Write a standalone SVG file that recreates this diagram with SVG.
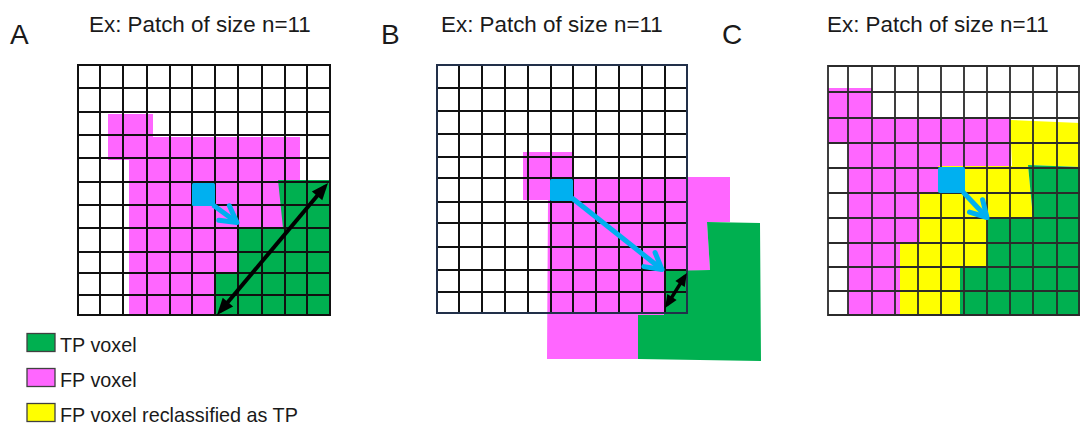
<svg xmlns="http://www.w3.org/2000/svg" width="1080" height="427" viewBox="0 0 1080 427">
  <style>
    .title { font-family: "Liberation Sans", Arial, sans-serif; font-size: 22.4px; fill: #1a1a1a; }
    .letter { font-family: "Liberation Sans", Arial, sans-serif; font-size: 28px; fill: #1a1a1a; }
    .legend-text { font-family: "Liberation Sans", Arial, sans-serif; font-size: 19.8px; fill: #1a1a1a; }
    .tp { fill: #00B050; }
    .fp { fill: #FF66FF; }
    .re { fill: #FFFF00; }
    .seed { fill: #00B0F0; }
    .grid { fill: none; stroke: #111; stroke-width: 2; stroke-linecap: square; }
    .grid-c { fill: none; stroke: #2b2b2b; stroke-width: 1.8; stroke-linecap: square; }
    .swatch { stroke: #404040; stroke-width: 1.3; }
    .dir { fill: none; stroke: #00B0F0; stroke-width: 5; marker-end: url(#chevron); }
    .span { fill: none; stroke: #000; stroke-width: 4; marker-start: url(#head); marker-end: url(#head); }
    .span-sm { fill: none; stroke: #000; stroke-width: 3.6; marker-start: url(#head-sm); marker-end: url(#head-sm); }
  </style>
  <defs>
    <marker id="chevron" markerUnits="userSpaceOnUse" viewBox="-22 -14 27 28" markerWidth="27" markerHeight="28" refX="0" refY="0" orient="auto">
      <path d="M-16 -9 L0 0 L-16 9" fill="none" stroke="#00B0F0" stroke-width="5" stroke-linecap="round" stroke-linejoin="round"/>
    </marker>
    <marker id="head" markerUnits="userSpaceOnUse" viewBox="-14 -9 22 18" markerWidth="22" markerHeight="18" refX="0" refY="0" orient="auto-start-reverse">
      <path d="M5 0 L-12 -6.8 L-12 6.8 Z" fill="#000"/>
    </marker>
    <marker id="head-sm" markerUnits="userSpaceOnUse" viewBox="-12 -8 20 16" markerWidth="20" markerHeight="16" refX="0" refY="0" orient="auto-start-reverse">
      <path d="M4 0 L-9 -5.5 L-9 5.5 Z" fill="#000"/>
    </marker>
  </defs>

  <rect width="1080" height="427" fill="#fff"/>

  <!-- Panel letters and captions -->
  <g id="titles">
    <text class="letter" x="10" y="43.5">A</text>
    <text class="letter" x="381" y="43.5">B</text>
    <text class="letter" x="722" y="43.5">C</text>
    <text class="title" x="89" y="31.5">Ex: Patch of size n=11</text>
    <text class="title" x="441" y="31.5">Ex: Patch of size n=11</text>
    <text class="title" x="827" y="31.5">Ex: Patch of size n=11</text>
  </g>

  <!-- Panel A: 11x11 patch, seed voxel and distance to the TP region -->
  <g id="panel-a">
    <polygon class="fp" points="108,114 153,114 153,137 300,137 300,182 283,182 283,228 238,228 238,272 215,272 215,315 129,315 129,160 108,160"/>
    <polygon class="tp" points="278,180 330,180 330,315 215,315 215,272 238,272 238,228 283,228"/>
    <path class="grid" d="M78 65V315M100 65V315M123 65V315M147 65V315M170 65V315M192 65V315M215 65V315M238 65V315M262 65V315M285 65V315M307 65V315M330 65V315M78 65H330M78 88H330M78 112H330M78 135H330M78 158H330M78 182H330M78 205H330M78 228H330M78 252H330M78 273H330M78 295H330M78 315H330"/>
    <rect class="seed" x="192" y="183" width="23" height="23" rx="1.5"/>
  </g>

  <!-- Panel B: patch with the TP region partly outside -->
  <g id="panel-b">
    <polygon class="fp" points="523,152 572,152 572,177 730,177 730,222 707,222 710,270 665,272 664,315 638,315 638,359 547,359 548,200 523,200"/>
    <polygon class="tp" points="707,222 760,223 761,361 638,359 638,315 664,315 665,271 710,270"/>
    <path class="grid" d="M459 65V313M482 65V313M505 65V313M528 65V313M551 65V313M573 65V313M596 65V313M619 65V313M642 65V313M665 65V313M437 88H687M437 111H687M437 134H687M437 157H687M437 178H687M437 202H687M437 223H687M437 247H687M437 270H687M437 292H687"/>
    <rect x="437" y="65" width="250" height="248" fill="none" stroke="#22304a" stroke-width="2"/>
    <rect class="seed" x="550" y="179" width="23" height="22" rx="1.5"/>
  </g>

  <!-- Panel C: FP voxels reclassified along the path to the TP region -->
  <g id="panel-c">
    <polygon class="fp" points="828,88 872,88 872,119 1011,119 1011,166 938,166 938,193 920,193 920,243 900,243 900,315 848,315 848,142 828,142"/>
    <polygon class="re" points="1010,120 1080,123 1080,167 1028,165 1033,218 987,218 987,268 960,268 960,315 900,315 900,243 920,243 920,193 938,193 938,166 1012,166"/>
    <polygon class="tp" points="1028,165 1080,167 1080,315 960,315 960,268 987,268 987,218 1033,218"/>
    <path class="grid-c" d="M828 66V315M848 66V315M872 66V315M895 66V315M918 66V315M941 66V315M964 66V315M987 66V315M1010 66V315M1033 66V315M1057 66V315M1079 66V315M828 66H1080M828 92H1080M828 118H1080M828 143H1080M828 168H1080M828 193H1080M828 218H1080M828 243H1080M828 267H1080M828 291H1080M828 315H1080"/>
    <rect class="seed" x="938" y="167" width="27" height="26" rx="2"/>
  </g>

  <!-- Arrows: seed direction (blue) and distance spans (black) -->
  <g id="connectors">
    <line class="dir" x1="213" y1="205" x2="237" y2="222.5"/>
    <line class="span" x1="220.2" y1="311.2" x2="324.8" y2="186.8"/>
    <line class="dir" x1="572" y1="198" x2="662" y2="269.5"/>
    <line class="span-sm" x1="667.2" y1="304.6" x2="684.8" y2="276.4"/>
    <line class="dir" x1="963" y1="192" x2="987" y2="217.5"/>
  </g>

  <!-- Legend -->
  <g id="legend">
    <rect class="swatch tp" x="27" y="333.5" width="28" height="18"/>
    <rect class="swatch fp" x="27" y="368.5" width="28" height="18"/>
    <rect class="swatch re" x="27" y="403.5" width="28" height="18"/>
    <text class="legend-text" x="60" y="351.5">TP voxel</text>
    <text class="legend-text" x="60" y="386.5">FP voxel</text>
    <text class="legend-text" x="60" y="421.5">FP voxel reclassified as TP</text>
  </g>
</svg>
